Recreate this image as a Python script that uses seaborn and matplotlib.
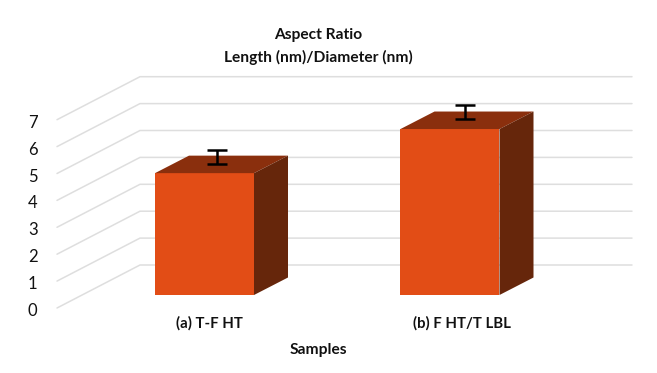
import matplotlib
matplotlib.use("Agg")
import matplotlib.pyplot as plt
import seaborn as sns
import pandas as pd
from matplotlib.patches import Polygon
from matplotlib.transforms import Affine2D

samples = ["(a) T-F HT", "(b) F HT/T LBL"]
aspect_ratio = [4.53, 6.17]
errors = [0.26, 0.26]
y_ticks = [0, 1, 2, 3, 4, 5, 6, 7]

FRONT, TOP, SIDE = "#E24D16", "#8A2F0D", "#66260B"
GRID = "#DEDEDE"
INK = "#111111"

sns.set_theme(style="white")
plt.rcParams["font.family"] = ["Lato", "DejaVu Sans"]

W, H = 657, 373
fig = plt.figure(figsize=(W / 100, H / 100), dpi=100)
left, right, base, top = 57, 632, 308, 77
ax = fig.add_axes([left / W, (H - base) / H, (right - left) / W, (base - top) / H])

# pixel scales of the two axes
PX_X = 245.5      # px per category
PX_Y = 26.9       # px per unit
CAT0 = 204.5      # pixel position of first category

df = pd.DataFrame({"Samples": samples, "Aspect Ratio": aspect_ratio})
sns.barplot(data=df, x="Samples", y="Aspect Ratio", color=FRONT, saturation=1,
            width=99 / PX_X, errorbar=None, ax=ax, zorder=3, linewidth=0)

ax.set_xlim((left - CAT0) / PX_X, (right - CAT0) / PX_X)
ax.set_ylim(0, (base - top) / PX_Y)

# back wall + side wall gridlines
wall_dx, wall_dy = 83 / PX_X, 43 / PX_Y
x0 = ax.get_xlim()[0]
x1 = ax.get_xlim()[1]
for v in y_ticks:
    ax.plot([x0, x0 + wall_dx, x1], [v, v + wall_dy, v + wall_dy],
            color=GRID, lw=1.1, clip_on=False, zorder=1, solid_joinstyle="miter")

# depth faces of the bars
lift = 13 / PX_Y
depth_x, depth_y = 34 / PX_X, 17.5 / PX_Y
err_dx = [12.5 / PX_X, 15.5 / PX_X]
err_dy = [16 / PX_Y, 17 / PX_Y]
for i, bar in enumerate(ax.patches):
    bar.set_y(lift)
    xa, xb = bar.get_x(), bar.get_x() + bar.get_width()
    yb, yt = lift, lift + bar.get_height()
    ax.add_patch(Polygon([(xa, yt), (xb, yt), (xb + depth_x, yt + depth_y), (xa + depth_x, yt + depth_y)],
                         closed=True, fc=TOP, ec="none", zorder=3))
    ax.add_patch(Polygon([(xb, yb), (xb + depth_x, yb + depth_y), (xb + depth_x, yt + depth_y), (xb, yt)],
                         closed=True, fc=SIDE, ec="none", zorder=3))
    ax.errorbar(i + err_dx[i], yt + err_dy[i], yerr=errors[i], color="black",
                elinewidth=1.8, capsize=7.5, capthick=1.8, zorder=5, clip_on=False)

sns.despine(ax=ax, left=True, bottom=True, top=True, right=True)
ax.set_yticks(y_ticks)
ax.tick_params(axis="y", length=0, pad=14, labelsize=12, labelcolor=INK)
ax.tick_params(axis="x", length=0, pad=6, labelsize=10.7, labelcolor=INK)
for lab in ax.get_yticklabels():
    lab.set_transform(lab.get_transform() + Affine2D().translate(0, -1.5))
for lab, shift in zip(ax.get_xticklabels(), [5, 12]):
    lab.set_fontweight("bold")
    lab.set_transform(lab.get_transform() + Affine2D().translate(shift, 0))
ax.set_ylabel("")
ax.set_xlabel("Samples", fontsize=11.2, fontweight="bold", color=INK)
ax.xaxis.set_label_coords((318 - left) / (right - left), -(350 - base) / (base - top), transform=ax.transAxes)
ax.xaxis.label.set_verticalalignment("center")

fig.text(318 / W, 1 - 35 / H, "Aspect Ratio", ha="center", va="center",
         fontsize=11.2, fontweight="bold", color=INK)
fig.text(318 / W, 1 - 57.5 / H, "Length (nm)/Diameter (nm)", ha="center", va="center",
         fontsize=11.2, fontweight="bold", color=INK)

fig.savefig("out.png", dpi=100, facecolor="white")
